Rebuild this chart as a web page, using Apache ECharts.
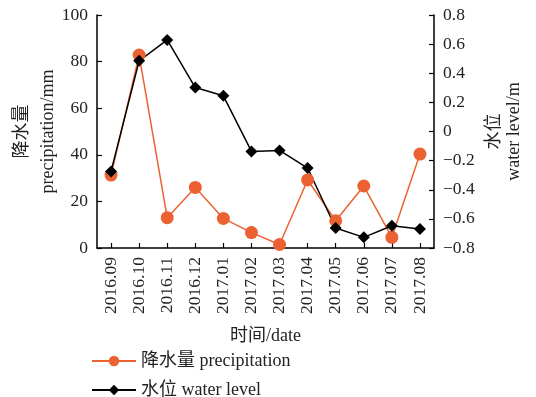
<!DOCTYPE html>
<html>
<head>
<meta charset="utf-8">
<script src="https://cdn.jsdelivr.net/npm/echarts@6/dist/echarts.min.js"></script>
<style>
  html, body { margin: 0; padding: 0; background: #fff; }
  #chart { width: 536px; height: 397px; }
</style>
</head>
<body>
<div id="chart"></div>
<script>
// Monthly precipitation and water level, Sep 2016 – Aug 2017
const months = ['2016.09', '2016.10', '2016.11', '2016.12', '2017.01', '2017.02',
                '2017.03', '2017.04', '2017.05', '2017.06', '2017.07', '2017.08'];
const precipitation = [31.3, 82.8, 13.0, 26.0, 12.7, 6.6, 1.5, 29.2, 11.7, 26.6, 4.6, 40.3];
const waterLevel = [-0.274, 0.485, 0.629, 0.302, 0.245, -0.137, -0.13, -0.251, -0.663, -0.727, -0.647, -0.669];

const FONT = '"Liberation Serif", "Times New Roman", "Noto Sans CJK SC", serif';
const ORANGE = '#EC6132';
const TEXT = '#222';

const fmtRight = v => {
  if (Math.abs(v) < 1e-9) return '0';
  return v.toFixed(1).replace('-', '\u2212');
};

const axisLine = { show: true, lineStyle: { color: '#000', width: 1.5 } };
const axisTick = { show: true, inside: true, length: 5, lineStyle: { color: '#000', width: 1.2 } };
const tickFont = { fontFamily: FONT, fontSize: 17.5, color: TEXT };

const chart = echarts.init(document.getElementById('chart'), null, { renderer: 'canvas' });
chart.setOption({
  animation: false,
  textStyle: { fontFamily: FONT },
  grid: { left: 97, right: 102, top: 15, bottom: 149, containLabel: false, outerBoundsMode: 'none' },
  legend: {
    orient: 'vertical',
    left: 86,
    top: 347,
    height: 60,
    itemWidth: 44,
    itemHeight: 13,
    itemGap: 11,
    textStyle: { fontFamily: FONT, fontSize: 18, color: TEXT, lineHeight: 18 },
    data: ['降水量 precipitation', '水位 water level']
  },
  xAxis: {
    type: 'category',
    data: months,
    boundaryGap: true,
    name: '时间/date',
    nameLocation: 'middle',
    nameGap: 79,
    nameMoveOverlap: false,
    nameTextStyle: { fontFamily: FONT, fontSize: 18, color: TEXT },
    axisLine,
    axisTick: { ...axisTick, alignWithLabel: true },
    splitLine: { show: false },
    axisLabel: { ...tickFont, rotate: 90, margin: 9 }
  },
  yAxis: [
    {
      type: 'value',
      min: 0, max: 100, interval: 20,
      position: 'left',
      name: '降水量\nprecipitation/mm',
      nameLocation: 'middle',
      nameRotate: 90,
      nameGap: 36,
      nameMoveOverlap: false,
      nameTextStyle: { fontFamily: FONT, fontSize: 18, color: TEXT, lineHeight: 26 },
      axisLine, axisTick,
      splitLine: { show: false },
      axisLabel: { ...tickFont, margin: 9 }
    },
    {
      type: 'value',
      min: -0.8, max: 0.8, interval: 0.2,
      position: 'right',
      name: '水位\nwater level/m',
      nameLocation: 'middle',
      nameRotate: 90,
      nameGap: 50,
      nameMoveOverlap: false,
      nameTextStyle: { fontFamily: FONT, fontSize: 18, color: TEXT, lineHeight: 20 },
      axisLine, axisTick,
      splitLine: { show: false },
      axisLabel: { ...tickFont, margin: 9, formatter: fmtRight }
    }
  ],
  series: [
    {
      name: '降水量 precipitation',
      type: 'line',
      yAxisIndex: 0,
      data: precipitation,
      symbol: 'circle',
      symbolSize: 13,
      lineStyle: { color: ORANGE, width: 1.5 },
      itemStyle: { color: ORANGE }
    },
    {
      name: '水位 water level',
      type: 'line',
      yAxisIndex: 1,
      data: waterLevel,
      symbol: 'path://M0,-1L1,0L0,1L-1,0Z',
      symbolSize: 12,
      lineStyle: { color: '#000', width: 1.5 },
      itemStyle: { color: '#000' }
    }
  ]
});
</script>
</body>
</html>
